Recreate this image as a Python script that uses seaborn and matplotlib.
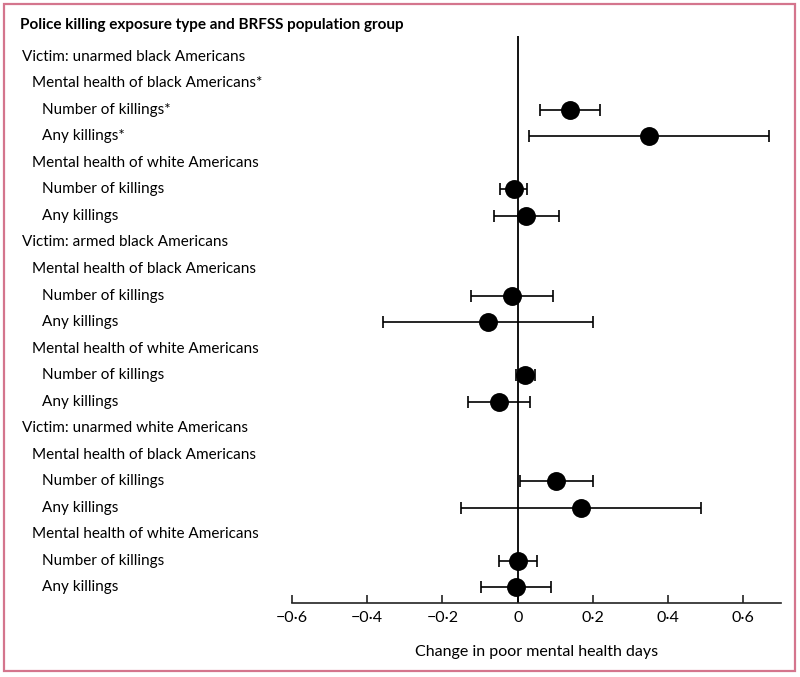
import numpy as np
import pandas as pd
import matplotlib
matplotlib.use("Agg")
import matplotlib.pyplot as plt
import matplotlib.transforms as mtransforms
from matplotlib.patches import Rectangle
import seaborn as sns

# rows of the forest plot, top to bottom
labels = [
    "Victim: unarmed black Americans",
    "Mental health of black Americans*",
    "Number of killings*",
    "Any killings*",
    "Mental health of white Americans",
    "Number of killings",
    "Any killings",
    "Victim: armed black Americans",
    "Mental health of black Americans",
    "Number of killings",
    "Any killings",
    "Mental health of white Americans",
    "Number of killings",
    "Any killings",
    "Victim: unarmed white Americans",
    "Mental health of black Americans",
    "Number of killings",
    "Any killings",
    "Mental health of white Americans",
    "Number of killings",
    "Any killings",
]
indent = [0, 1, 2, 2, 1, 2, 2, 0, 1, 2, 2, 1, 2, 2, 0, 1, 2, 2, 1, 2, 2]
nan = np.nan
estimate = [nan, nan, 0.139, 0.348, nan, -0.011, 0.023,
            nan, nan, -0.016, -0.080, nan, 0.019, -0.051,
            nan, nan, 0.103, 0.167, nan, 0.001, -0.005]
ci_low = [nan, nan, 0.060, 0.030, nan, -0.046, -0.062,
          nan, nan, -0.124, -0.357, nan, -0.005, -0.132,
          nan, nan, 0.006, -0.151, nan, -0.049, -0.097]
ci_high = [nan, nan, 0.219, 0.668, nan, 0.025, 0.109,
           nan, nan, 0.094, 0.199, nan, 0.045, 0.034,
           nan, nan, 0.199, 0.488, nan, 0.051, 0.089]
tick_values = [-0.6, -0.4, -0.2, 0, 0.2, 0.4, 0.6]
tick_labels = ["\u22120\u00b76", "\u22120\u00b74", "\u22120\u00b72", "0", "0\u00b72", "0\u00b74", "0\u00b76"]

df = pd.DataFrame({"label": labels, "indent": indent, "est": estimate,
                   "lo": ci_low, "hi": ci_high})
df["row"] = np.arange(len(df))

sns.set_style("white")
plt.rcParams["font.family"] = ["Lato", "DejaVu Sans"]
plt.rcParams["text.color"] = "black"
plt.rcParams["axes.labelcolor"] = "black"
plt.rcParams["xtick.color"] = "black"

fig = plt.figure(figsize=(8, 6.77), dpi=100)
ax = fig.add_axes([292 / 800, 74 / 677, 489 / 800, 567 / 677])

pts = df.dropna(subset=["est"])
ax.errorbar(pts["est"], pts["row"],
            xerr=[pts["est"] - pts["lo"], pts["hi"] - pts["est"]],
            fmt="none", ecolor="black", elinewidth=1.2, capsize=4, capthick=1.2, zorder=2)
sns.scatterplot(data=pts, x="est", y="row", color="black", s=185,
                edgecolor="black", linewidth=0, ax=ax, zorder=3, legend=False)

ax.axvline(0, color="black", lw=1.3, zorder=1)
ax.set_xlim(-0.6, 0.7)
ax.set_ylim(20.6, -0.79)

for s in ["top", "right", "left"]:
    ax.spines[s].set_visible(False)
ax.spines["bottom"].set_linewidth(1.2)
ax.spines["bottom"].set_color("#222222")
ax.set_yticks([])
ax.set_xticks(tick_values)
ax.set_xticklabels(tick_labels)
ax.tick_params(axis="x", direction="in", length=6, width=1.2, color="#222222",
               labelsize=11.5, pad=6, bottom=True)
ax.set_xlabel("Change in poor mental health days", fontsize=11.5, labelpad=14)
ax.set_ylabel("")

trans = mtransforms.blended_transform_factory(fig.transFigure, ax.transData)
for _, r in df.iterrows():
    ax.text((22 + 10 * r["indent"]) / 800, r["row"], r["label"], transform=trans,
            ha="left", va="center", fontsize=11, clip_on=False)

fig.text(20 / 800, 1 - 25 / 677, "Police killing exposure type and BRFSS population group",
         ha="left", va="center", fontsize=11, fontweight="bold")

fig.patches.append(Rectangle((4 / 800, 6 / 677), 791 / 800, 667 / 677,
                             transform=fig.transFigure, fill=False,
                             edgecolor="#d4758d", linewidth=1.6))

fig.savefig("out.png", dpi=100)
